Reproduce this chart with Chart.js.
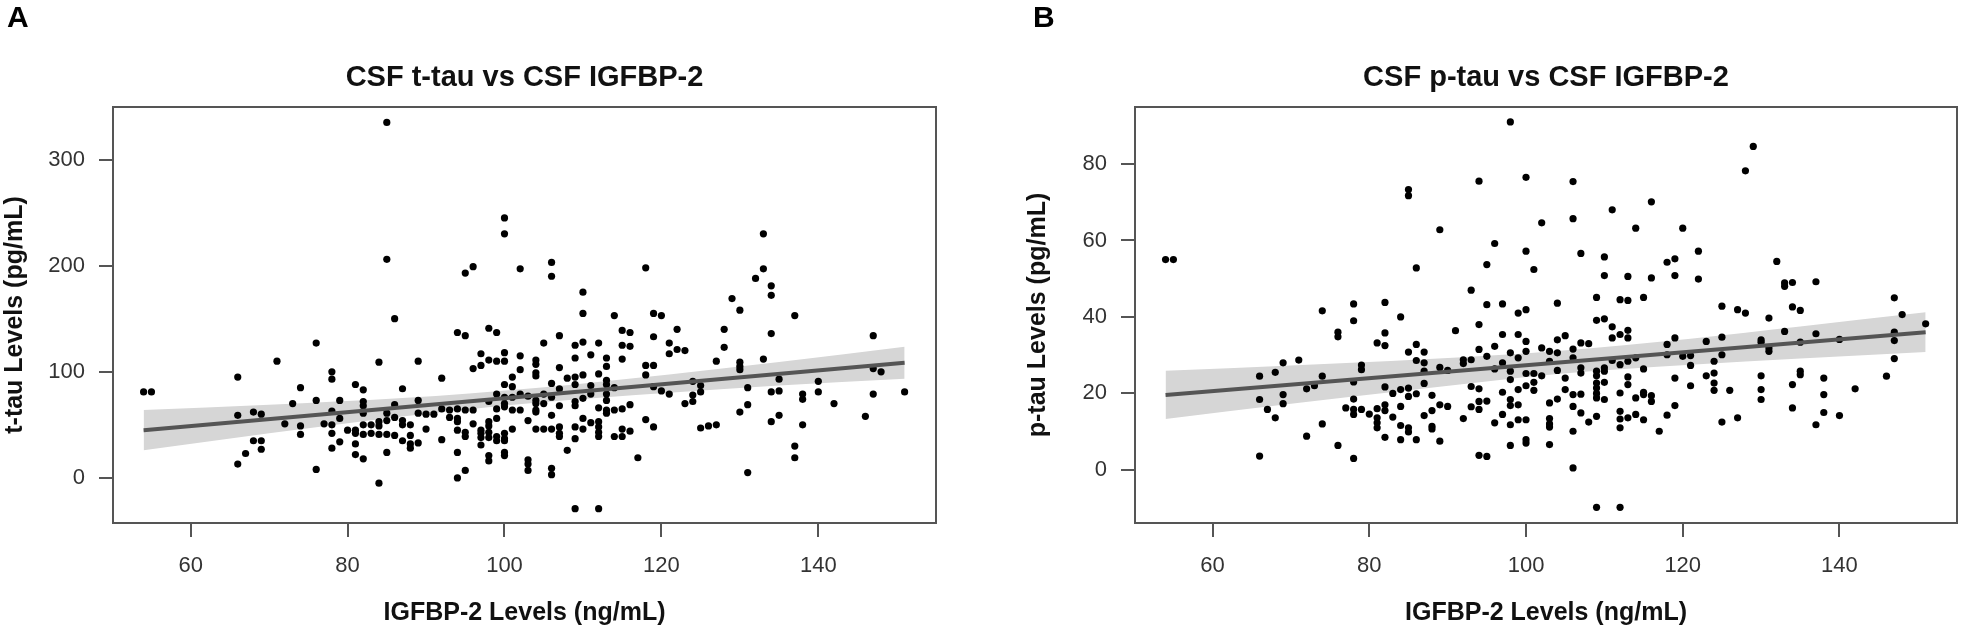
<!DOCTYPE html>
<html>
<head>
<meta charset="utf-8">
<script src="https://cdn.jsdelivr.net/npm/chart.js@4.4.0/dist/chart.umd.min.js"></script>
<style>
  body { margin: 0; background: #fff; }
  #wrap { position: relative; width: 1962px; height: 631px; }
  canvas { position: absolute; top: 0; }
</style>
</head>
<body>
<div id="wrap">
  <canvas id="chartA" width="981" height="631" style="left:0"></canvas>
  <canvas id="chartB" width="981" height="631" style="left:981px"></canvas>
</div>
<script>
// IGFBP-2 levels (ng/mL), one entry per column of points
const igfbp = [54, 55, 66, 67, 68, 69, 71, 72, 73, 74, 76, 77, 78, 79, 80, 81, 82, 83, 84, 85,
  86, 87, 88, 89, 90, 91, 92, 93, 94, 95, 96, 97, 98, 99, 100, 101, 102, 103, 104, 105,
  106, 107, 108, 109, 110, 111, 112, 113, 114, 115, 116, 117, 118, 119, 120, 121, 122, 123, 124, 125,
  126, 127, 128, 129, 130, 131, 132, 133, 134, 135, 137, 138, 140, 142, 146, 147, 148, 151];

// t-tau (pg/mL) values in each column
const ttau = [[81], [81], [95, 59, 13], [23], [62, 35], [60, 35, 27], [110], [51], [70], [85, 49, 41],
  [127, 73, 8], [51], [100, 93, 63, 50, 42, 28], [73, 56, 34], [45], [88, 45, 42, 32, 22],
  [83, 72, 68, 61, 50, 41, 18], [50, 42], [109, 53, 49, 41, -5], [335, 206, 61, 54, 41, 24],
  [150, 69, 57, 40], [84, 54, 50, 35], [50, 40, 32, 28], [110, 73, 61, 33], [60, 46], [60],
  [94, 65, 36], [64, 57], [137, 65, 56, 53, 45, 24, 0], [193, 134, 64, 43, 39, 7], [199, 103, 64, 51],
  [117, 106, 45, 42, 38, 31], [141, 111, 72, 53, 49, 43, 38, 21, 16], [137, 110, 79, 65, 56, 39, 35],
  [245, 230, 118, 110, 88, 76, 70, 67, 42, 37, 35, 24, 21], [95, 86, 76, 64, 46], [197, 115, 102, 79, 64],
  [77, 54, 17, 13, 7], [111, 107, 99, 96, 73, 70, 64, 62, 46], [127, 79, 70, 46],
  [203, 190, 89, 76, 59, 46, 9, 3], [134, 104, 84, 68, 48, 42, 39], [94, 26],
  [125, 113, 95, 88, 72, 68, 48, 37, -29], [175, 155, 128, 97, 75, 56, 46], [116, 87, 79, 52],
  [127, 98, 66, 53, 48, 43, 39, -29], [113, 105, 92, 88, 79, 73, 64, 61], [153, 85, 64, 39],
  [139, 125, 112, 65, 46, 39], [137, 124, 69, 44], [19], [198, 106, 97, 55], [155, 133, 106, 86, 48],
  [153, 82], [127, 117, 79], [140, 121], [120, 70], [91, 78, 72], [87, 81, 47], [49], [110, 50],
  [140, 123], [169], [158, 109, 105, 102, 62], [85, 69, 5], [188], [230, 197, 112],
  [181, 172, 136, 81, 53], [93, 82, 59], [153, 30, 19], [79, 74, 50], [91, 81], [70], [58],
  [134, 103, 79], [100], [81]];

// p-tau (pg/mL) values in each column
const ptau = [[55], [55], [24.5, 18.4, 3.6], [15.8], [25.5, 13.6], [28, 19.7, 17.3], [28.7], [21.2, 8.8], [22],
  [41.6, 24.5, 12], [36, 34.8, 6.4], [16.2], [43.4, 39, 23, 18.5, 15.8, 14.5, 3], [27.4, 26.2, 15.8], [14.6],
  [33.2, 16, 13.6, 12.3, 11], [43.8, 35.8, 32.5, 21.7, 17, 15.5, 8.5], [20, 13.8], [40, 21, 16.6, 11.6, 7.9],
  [73.3, 71.7, 30.8, 21.4, 19.2, 11, 9.9], [52.8, 32.8, 28.6, 19.9, 7.9], [30.8, 28, 25.8, 22.6, 14.2],
  [19.5, 15.5, 11.4, 10.7], [62.8, 26.8, 17, 7.5], [26, 16.6], [36.4], [28.8, 27.8, 13.4],
  [47, 28.8, 21.8, 16.5], [75.5, 38, 31.5, 21.2, 17.9, 15.8, 3.8], [53.7, 43.2, 29.7, 18, 3.5],
  [59.2, 32.3, 26.4, 12.3], [43.4, 35.4, 28, 20.3, 14.5], [91, 30.6, 25.8, 23.6, 18.4, 16.8, 11.8, 6.4],
  [41, 35.4, 29.3, 21, 17, 13.1], [76.5, 57.2, 41.9, 33.6, 31, 25.2, 22, 13.1, 7.9, 7],
  [52.4, 25.2, 22.9, 20.8], [64.6, 31.9, 24.6], [31, 28.4, 17.5, 13.4, 12, 11.2, 6.6],
  [43.6, 34, 30.6, 26, 18.5], [35.1, 24, 21], [75.4, 65.7, 31.6, 29.3, 19.7, 16.6, 10.1, 0.5],
  [56.6, 33.2, 26.7, 25.3, 19.8, 14.9], [33, 12.5], [45.1, 39.1, 25.8, 24.6, 22.7, 21.4, 20, 18.8, 14, -9.8],
  [55.7, 50.8, 39.5, 26.7, 25.8, 22.9, 18.4], [68, 37.4, 34.5, 28.6],
  [44.5, 35.4, 27.5, 20.1, 15.3, 13.3, 11, -9.8], [50.6, 44.3, 36.5, 34.5, 28.4, 24.3, 22.3, 13.6],
  [63.2, 29.3, 18.8, 14.5], [45.1, 26.4, 20.3, 19.7, 13.1], [70.1, 50.2, 19.4, 17.9], [10.1],
  [54.3, 32.8, 30.1, 14.3], [55.2, 50.8, 34.5, 24, 16.8], [63.2, 29.7], [29.9, 27.3, 22], [57.2, 49.9],
  [33.6, 24.6], [28.4, 25.3, 22.7, 20.8], [42.8, 34.7, 30.1, 12.5], [20.8], [41.9, 13.6], [78.2, 41],
  [84.6], [34, 33.4, 24.6, 21, 18.4], [39.7, 31.9, 31], [54.5], [48.9, 48, 36.2], [49, 42.6, 22.3, 16.2],
  [41.7, 33.4, 25.8, 24.9], [49.2, 35.6, 11.8], [24, 19.7, 15], [34.1, 14.2], [21.2], [24.5],
  [45, 36, 33.8, 29.1], [40.6], [38.2]];

// fitted line and confidence band
const fitX = [54, 151];
const ttauFit = [45, 108.5];
const ptauFit = [19.6, 36];
const bandX = [54, 70, 87, 104, 121, 135, 151];
const ttauUpper = [64, 69, 75.3, 84.8, 97.5, 109.1, 123.5];
const ttauLower = [26, 42, 57.9, 70.8, 80.3, 87.1, 93.5];
const ptauUpper = [25.9, 27.3, 28.9, 31.1, 34.3, 37.5, 41.2];
const ptauLower = [13.3, 17.3, 21.3, 25.1, 27.5, 29.1, 30.8];

const xTicks = [60, 80, 100, 120, 140];
const ttauTicks = [0, 100, 200, 300];
const ptauTicks = [0, 20, 40, 60, 80];

Chart.defaults.font.family = "'Liberation Sans', Arial, sans-serif";

function toPoints(xs, ys) {
  let pts = [];
  xs.forEach((x, i) => {
    ys[i].forEach((y) => pts.push({ x: x, y: y }));
  });
  return pts;
}

function toLine(xs, ys) {
  return xs.map((x, i) => ({ x: x, y: ys[i] }));
}

// R style box round the plot area, plus the panel letter
const boxPlugin = {
  id: "box",
  afterDraw(chart, args, opts) {
    const { ctx, chartArea: a } = chart;
    ctx.save();
    ctx.strokeStyle = "#555";
    ctx.lineWidth = 2;
    ctx.strokeRect(a.left, a.top, a.right - a.left, a.bottom - a.top);
    ctx.fillStyle = "#000";
    ctx.font = "bold 30px 'Liberation Sans', Arial, sans-serif";
    ctx.textBaseline = "alphabetic";
    ctx.fillText(opts.letter, opts.letterX, 27);
    ctx.restore();
  },
};

function drawPanel(id, cfg) {
  const ctx = document.getElementById(id).getContext("2d");
  return new Chart(ctx, {
    type: "scatter",
    data: {
      datasets: [
        {
          type: "line",
          data: toLine(fitX, cfg.fit),
          borderColor: "#555",
          borderWidth: 4,
          pointRadius: 0,
          fill: false,
          order: 0,
        },
        {
          data: toPoints(igfbp, cfg.values),
          backgroundColor: "#000",
          borderWidth: 0,
          pointRadius: 3.6,
          order: 1,
        },
        {
          type: "line",
          data: toLine(bandX, cfg.upper),
          borderWidth: 0,
          pointRadius: 0,
          backgroundColor: "#d6d6d6",
          fill: "+1",
          cubicInterpolationMode: "monotone",
          order: 2,
        },
        {
          type: "line",
          data: toLine(bandX, cfg.lower),
          borderWidth: 0,
          pointRadius: 0,
          fill: false,
          cubicInterpolationMode: "monotone",
          order: 3,
        },
      ],
    },
    options: {
      responsive: false,
      animation: false,
      devicePixelRatio: 1,
      layout: { padding: { left: 0, right: cfg.rightPad, top: 0, bottom: 0 } },
      plugins: {
        legend: { display: false },
        tooltip: { enabled: false },
        title: {
          display: true,
          text: cfg.title,
          fullSize: false,
          color: "#111",
          font: { size: 29, weight: "bold" },
          padding: { top: 61, bottom: 11.2 },
        },
        box: { letter: cfg.letter, letterX: cfg.letterX },
      },
      scales: {
        x: {
          type: "linear",
          min: 50.1,
          max: 155,
          afterBuildTicks: (s) => {
            s.ticks = xTicks.map((v) => ({ value: v }));
          },
          afterFit: (s) => {
            s.height = 108;
          },
          grid: { drawOnChartArea: false, drawTicks: true, tickLength: 14, color: "#555", lineWidth: 2 },
          border: { display: false },
          ticks: { color: "#333", font: { size: 22 }, padding: 16 },
          title: {
            display: true,
            text: "IGFBP-2 Levels (ng/mL)",
            color: "#111",
            font: { size: 25, weight: "bold" },
            padding: { top: 0, bottom: 3 },
          },
        },
        y: {
          type: "linear",
          min: cfg.yMin,
          max: cfg.yMax,
          afterBuildTicks: (s) => {
            s.ticks = cfg.yTicks.map((v) => ({ value: v }));
          },
          afterFit: (s) => {
            s.width = cfg.yWidth;
          },
          grid: { drawOnChartArea: false, drawTicks: true, tickLength: 14, color: "#555", lineWidth: 2 },
          border: { display: false },
          ticks: { color: "#333", font: { size: 22 }, padding: 14 },
          title: {
            display: true,
            text: cfg.yTitle,
            color: "#111",
            font: { size: 25, weight: "bold" },
            padding: { top: cfg.yTitlePad, bottom: 0 },
          },
        },
      },
    },
    plugins: [boxPlugin],
  });
}

drawPanel("chartA", {
  title: "CSF t-tau vs CSF IGFBP-2",
  yTitle: "t-tau Levels (pg/mL)",
  values: ttau,
  fit: ttauFit,
  upper: ttauUpper,
  lower: ttauLower,
  yMin: -42.5,
  yMax: 349.5,
  yTicks: ttauTicks,
  yWidth: 113,
  yTitlePad: 0,
  rightPad: 45,
  letter: "A",
  letterX: 7,
});

drawPanel("chartB", {
  title: "CSF p-tau vs CSF IGFBP-2",
  yTitle: "p-tau Levels (pg/mL)",
  values: ptau,
  fit: ptauFit,
  upper: ptauUpper,
  lower: ptauLower,
  yMin: -13.9,
  yMax: 94.9,
  yTicks: ptauTicks,
  yWidth: 154,
  yTitlePad: 42,
  rightPad: 5,
  letter: "B",
  letterX: 52,
});
</script>
</body>
</html>
